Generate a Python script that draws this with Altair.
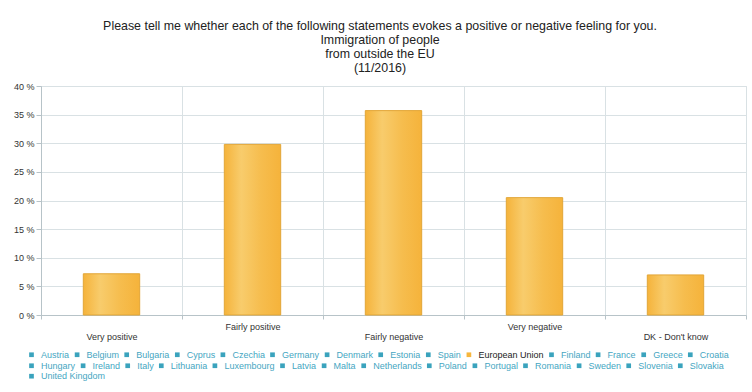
import json
import altair as alt
import pandas as pd

# Survey answers and EU-wide shares (%)
answers = ["Very positive", "Fairly positive", "Fairly negative", "Very negative", "DK - Don't know"]
eu_share = [7.2, 29.8, 35.7, 20.5, 7.0]

# Entities listed in the legend, one list per legend row (only the EU aggregate is plotted)
legend_row1 = [
    "Austria", "Belgium", "Bulgaria", "Cyprus", "Czechia", "Germany", "Denmark",
    "Estonia", "Spain", "European Union", "Finland", "France", "Greece", "Croatia",
]
legend_row2 = [
    "Hungary", "Ireland", "Italy", "Lithuania", "Luxembourg", "Latvia", "Malta",
    "Netherlands", "Poland", "Portugal", "Romania", "Sweden", "Slovenia", "Slovakia",
]
legend_row3 = ["United Kingdom"]
highlight = "European Union"

title_lines = [
    "Please tell me whether each of the following statements evokes a positive or negative feeling for you.",
    "Immigration of people",
    "from outside the EU",
    "(11/2016)",
]
y_ticks = [0, 5, 10, 15, 20, 25, 30, 35, 40]

TEAL = "#3aa3bd"
ORANGE = "#f6b63d"
GRID = "#d9e1e4"
AXIS = "#b7c3c8"
FONT = "Liberation Sans"

df = pd.DataFrame({"answer": answers, "share": eu_share})

# every other category label is pushed down one line
lowered = json.dumps(answers[0::2])
x_label_expr = f"indexof({lowered}, datum.label) >= 0 ? ['', datum.label] : datum.label"

x_enc = alt.X(
    "answer:N",
    sort=answers,
    scale=alt.Scale(paddingInner=0, paddingOuter=0),
    axis=alt.Axis(
        title=None,
        labelAngle=0,
        labelFontSize=9,
        labelFont=FONT,
        labelColor="#333333",
        labelLineHeight=10,
        labelPadding=3,
        labelExpr=x_label_expr,
        tickBand="extent",
        tickSize=4,
        tickColor=AXIS,
        domainColor=AXIS,
        grid=True,
        gridColor=GRID,
    ),
)
y_enc = alt.Y(
    "share:Q",
    scale=alt.Scale(domain=[0, 40], nice=False),
    axis=alt.Axis(
        title=None,
        values=y_ticks,
        labelExpr="datum.value + ' %'",
        labelFontSize=9,
        labelFont=FONT,
        labelColor="#333333",
        labelPadding=2,
        tickSize=5,
        tickColor=AXIS,
        domainColor=AXIS,
        gridColor=GRID,
    ),
)

# gradient-filled EU bars
gradient = {
    "x1": 0, "x2": 1, "y1": 0, "y2": 0,
    "gradient": "linear",
    "stops": [
        {"offset": 0, "color": "#f5b33b"},
        {"offset": 0.3, "color": "#f8cc6c"},
        {"offset": 0.65, "color": "#f6bd4e"},
        {"offset": 1, "color": "#f5b33b"},
    ],
}
bars = alt.Chart(df).mark_bar(
    width={"band": 0.4}, color=gradient, stroke="#e2a637", strokeWidth=1
).encode(x=x_enc, y=y_enc)


def legend_row(names, y):
    """One horizontal legend row; each row is its own single-row legend so entries flow."""
    colors = [ORANGE if n == highlight else TEAL for n in names]
    return (
        alt.Chart(pd.DataFrame({"entity": names}))
        .mark_square(opacity=0)
        .encode(
            color=alt.Color(
                "entity:N",
                scale=alt.Scale(domain=names, range=colors),
                legend=alt.Legend(
                    title=None,
                    orient="none",
                    legendX=-14,
                    legendY=y,
                    direction="horizontal",
                    symbolType="square",
                    symbolSize=22,
                    symbolStrokeWidth=0,
                    symbolOpacity=1,
                    labelFontSize=9,
                    labelFont=FONT,
                    labelColor={"expr": f"datum.label == '{highlight}' ? '#222222' : '#45a6c2'"},
                    labelOffset=5,
                    columnPadding=2.6,
                ),
            )
        )
    )


chart = (
    alt.layer(
        bars,
        legend_row(legend_row1, 264),
        legend_row(legend_row2, 275),
        legend_row(legend_row3, 285.7),
    )
    .resolve_scale(color="independent")
    .properties(
        width=705,
        height=229,
        title=alt.TitleParams(
            text=title_lines,
            fontSize=12.4,
            font=FONT,
            fontWeight="normal",
            color="#222222",
            lineHeight=14,
            anchor="middle",
            frame="bounds",
            offset=8,
        ),
        autosize=alt.AutoSizeParams(type="none"),
        padding={"left": 41, "top": 86, "right": 6, "bottom": 77},
    )
    .configure_view(stroke=GRID)
    .configure(background="white")
)

chart.save("out.html", embed_options={"renderer": "svg", "actions": False})
